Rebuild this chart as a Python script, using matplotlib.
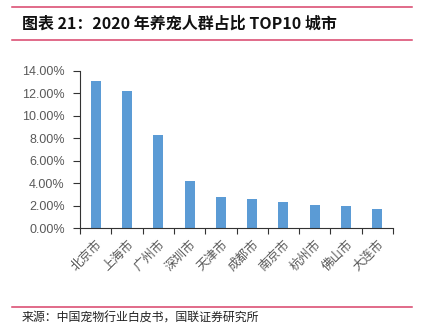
import matplotlib
matplotlib.use('Agg')
import matplotlib.pyplot as plt
from matplotlib.lines import Line2D
from matplotlib.ticker import FuncFormatter, MultipleLocator
import numpy as np

plt.rcParams['font.family'] = ['Noto Sans CJK SC', 'DejaVu Sans']

# 数据
cities = ['北京市', '上海市', '广州市', '深圳市', '天津市',
          '成都市', '南京市', '杭州市', '佛山市', '大连市']
share = [13.1, 12.2, 8.3, 4.2, 2.8, 2.6, 2.3, 2.1, 2.0, 1.7]
title = '图表 21：2020 年养宠人群占比 TOP10 城市'
source = '来源：中国宠物行业白皮书，国联证券研究所'

W, H = 426, 332
fig = plt.figure(figsize=(W / 100, H / 100), dpi=100)

# 红色分隔线
red = '#D8436A'
for y in (7, 40, 307):
    fig.add_artist(Line2D([12 / W, 412 / W], [1 - y / H, 1 - y / H],
                          color=red, lw=1.1, transform=fig.transFigure))

fig.text(22 / W, 1 - 24 / H, title, fontsize=11.5, fontweight='bold',
         va='center', ha='left', color='#111111')
fig.text(22 / W, 1 - 318 / H, source, fontsize=8.6,
         va='center', ha='left', color='#222222')

ax = fig.add_axes([80 / W, 1 - 228.3 / H, (393 - 80) / W, (228.3 - 70.5) / H])
x = np.arange(len(cities))
ax.bar(x, np.array(share) / 100, width=0.32, color='#5B9BD5')

ax.set_xlim(-0.5, len(cities) - 0.5)
ax.set_ylim(0, 0.14)
ax.yaxis.set_major_locator(MultipleLocator(0.02))
ax.yaxis.set_major_formatter(FuncFormatter(lambda v, p: f'{v * 100:.2f}%'))

ax.set_xticks(np.arange(len(cities) + 1) - 0.5, minor=False)
ax.set_xticklabels([])
ax.set_xticks(x, minor=True)
ax.set_xticklabels(cities, minor=True, rotation=45, ha='right',
                   rotation_mode='anchor', fontsize=9, color='#595959')
ax.tick_params(axis='x', which='minor', length=0, pad=7)
ax.tick_params(axis='x', which='major', length=4, width=0.8, color='#333333')
ax.tick_params(axis='y', length=5, width=0.8, color='#333333',
               labelsize=9, labelcolor='#595959', pad=6,
               labelfontfamily='Liberation Sans')

for s in ('top', 'right'):
    ax.spines[s].set_visible(False)
for s in ('left', 'bottom'):
    ax.spines[s].set_color('#333333')
    ax.spines[s].set_linewidth(0.8)

fig.savefig('out.png', dpi=100)
